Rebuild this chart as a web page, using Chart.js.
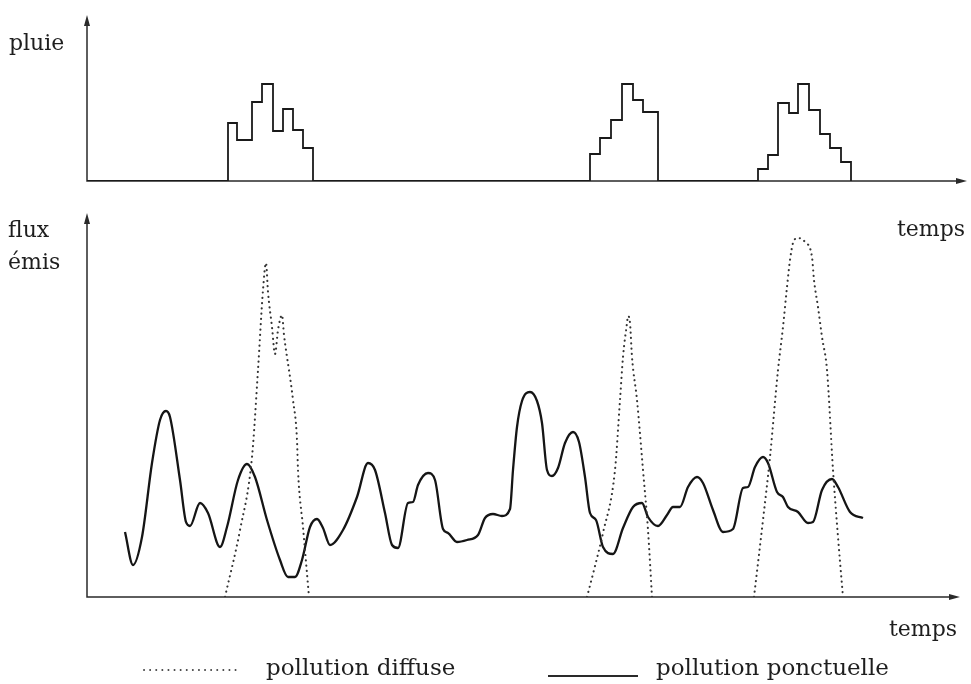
<!DOCTYPE html>
<html>
<head>
<meta charset="utf-8">
<script src="https://cdn.jsdelivr.net/npm/chart.js@4.4.1/dist/chart.umd.min.js"></script>
<style>
  html, body { margin:0; padding:0; background:#fff; width:971px; height:684px; overflow:hidden; }
  canvas { position:absolute; left:0; top:0; }
  svg { position:absolute; left:0; top:0; }
  svg text { font-family:"DejaVu Serif", "Liberation Serif", serif; fill:#1e1e1e; }
</style>
</head>
<body>
<canvas id="rain" width="971" height="684"></canvas>
<canvas id="flux" width="971" height="684"></canvas>
<svg width="971" height="684" id="labels">
  <text x="9" y="50" font-size="22">pluie</text>
  <text x="8" y="237" font-size="22">flux</text>
  <text x="8" y="269" font-size="22">émis</text>
  <text x="897" y="236" font-size="22">temps</text>
  <text x="889" y="636" font-size="22">temps</text>
  <line x1="144" y1="670" x2="236" y2="670" stroke="#444" stroke-width="1.9" stroke-linecap="round" stroke-dasharray="0.1 6"/>
  <text x="266" y="675" font-size="23">pollution diffuse</text>
  <line x1="548" y1="676" x2="638" y2="676" stroke="#2a2a2a" stroke-width="1.9"/>
  <text x="656" y="675" font-size="23">pollution ponctuelle</text>
</svg>
<script>
// ---- data (time in arbitrary units along the axis) ----
const rainTime  = [0, 141, 150, 165, 175, 186, 196, 206, 216, 226,
                   503, 513, 524, 535, 546, 556, 571,
                   671, 681, 691, 702, 711, 722, 733, 743, 754, 764];
const rainValue = [0, 58, 41, 79, 97, 50, 72, 51, 33, 0,
                   27, 43, 61, 97, 81, 69, 0,
                   12, 26, 78, 68, 97, 71, 47, 33, 19, 0];

const flowTime = [38,46,55,65,73,79,83,93,99,103,113,121,133,140,151,160,168,180,193,201,
                  208,215,223,230,236,243,256,270,281,288,298,305,311,321,326,331,341,348,356,361,
                  370,380,391,398,406,415,423,426,430,435,443,450,455,460,465,471,478,486,492,498,
                  503,509,516,526,536,546,555,561,571,580,586,593,601,610,616,626,636,646,656,661,
                  668,676,681,690,696,701,711,721,726,735,745,751,763,776];
const pointValue = [65,32,60,134,177,186,180,117,75,71,94,84,50,70,117,133,120,77,37,20,
                    20,37,70,78,69,52,67,100,134,127,84,52,49,94,95,112,124,117,68,64,
                    55,57,62,79,83,81,88,127,170,196,205,196,174,127,121,129,154,165,155,120,
                    84,77,50,43,69,90,94,80,71,82,90,90,110,120,114,87,65,68,109,110,
                    130,140,134,105,100,90,85,74,75,107,118,110,85,79];

const diffuseTime = [138,153,165,171,176,179,181,185,188,191,195,197,200,202,206,210,211,216,222,
                     360,
                     500,508,516,528,533,536,540,541,543,545,550,556,561,565,
                     610,
                     667,676,683,691,696,700,703,706,711,718,725,727,731,735,740,746,751,756];
const diffuseValue = [0,67,140,227,307,334,305,270,243,267,282,262,240,227,197,157,127,70,0,
                      null,
                      0,31,64,127,197,240,274,281,274,240,197,127,67,0,
                      null,
                      0,77,140,227,270,310,337,354,359,355,340,317,290,260,227,127,60,0];

const seriesNames = ['pluie', 'pollution diffuse', 'pollution ponctuelle'];

// ---- plugin: axes with arrow heads ----
const arrowAxes = {
  id: 'arrowAxes',
  beforeDatasetsDraw(chart, args, opts) {
    const { ctx, chartArea: a } = chart;
    const xEnd = chart.scales.x.getPixelForValue(opts.xEnd);
    ctx.save();
    ctx.strokeStyle = '#2a2a2a';
    ctx.fillStyle = '#2a2a2a';
    ctx.lineWidth = 1.5;
    ctx.beginPath();
    ctx.moveTo(a.left, a.top + 6);
    ctx.lineTo(a.left, a.bottom);
    ctx.lineTo(xEnd - 6, a.bottom);
    ctx.stroke();
    ctx.beginPath();
    ctx.moveTo(a.left, a.top);
    ctx.lineTo(a.left - 3, a.top + 11);
    ctx.lineTo(a.left + 3, a.top + 11);
    ctx.closePath();
    ctx.fill();
    ctx.beginPath();
    ctx.moveTo(xEnd, a.bottom);
    ctx.lineTo(xEnd - 11, a.bottom - 3);
    ctx.lineTo(xEnd - 11, a.bottom + 3);
    ctx.closePath();
    ctx.fill();
    ctx.restore();
  }
};

const hiddenLinear = (min, max) => ({ type: 'linear', min, max, display: false });

// ---- rain chart ----
new Chart(document.getElementById('rain'), {
  type: 'line',
  data: {
    datasets: [{
      label: seriesNames[0],
      data: rainTime.map((t, i) => ({ x: t, y: rainValue[i] })),
      stepped: 'before',
      borderColor: '#1a1a1a',
      borderWidth: 1.8,
      pointRadius: 0,
      fill: false
    }]
  },
  options: {
    responsive: false,
    animation: false,
    devicePixelRatio: 1,
    layout: { padding: { left: 87, top: 15, right: 4, bottom: 503 } },
    scales: { x: hiddenLinear(0, 880), y: hiddenLinear(0, 166) },
    plugins: { legend: { display: false }, tooltip: { enabled: false }, arrowAxes: { xEnd: 880 } }
  },
  plugins: [arrowAxes]
});

// ---- flux chart ----
new Chart(document.getElementById('flux'), {
  type: 'line',
  data: {
    datasets: [{
      label: seriesNames[1],
      data: diffuseTime.map((t, i) => ({ x: t, y: diffuseValue[i] })),
      borderColor: '#333333',
      borderWidth: 2.1,
      borderCapStyle: 'round',
      borderDash: [0.1, 5.2],
      cubicInterpolationMode: 'monotone',
      pointRadius: 0,
      spanGaps: false,
      fill: false
    }, {
      label: seriesNames[2],
      data: flowTime.map((t, i) => ({ x: t, y: pointValue[i] })),
      borderColor: '#151515',
      borderWidth: 2.3,
      cubicInterpolationMode: 'monotone',
      pointRadius: 0,
      fill: false
    }]
  },
  options: {
    responsive: false,
    animation: false,
    devicePixelRatio: 1,
    layout: { padding: { left: 87, top: 213, right: 4, bottom: 87 } },
    scales: { x: hiddenLinear(0, 880), y: hiddenLinear(0, 384) },
    plugins: { legend: { display: false }, tooltip: { enabled: false }, arrowAxes: { xEnd: 873 } }
  },
  plugins: [arrowAxes]
});
</script>
</body>
</html>
